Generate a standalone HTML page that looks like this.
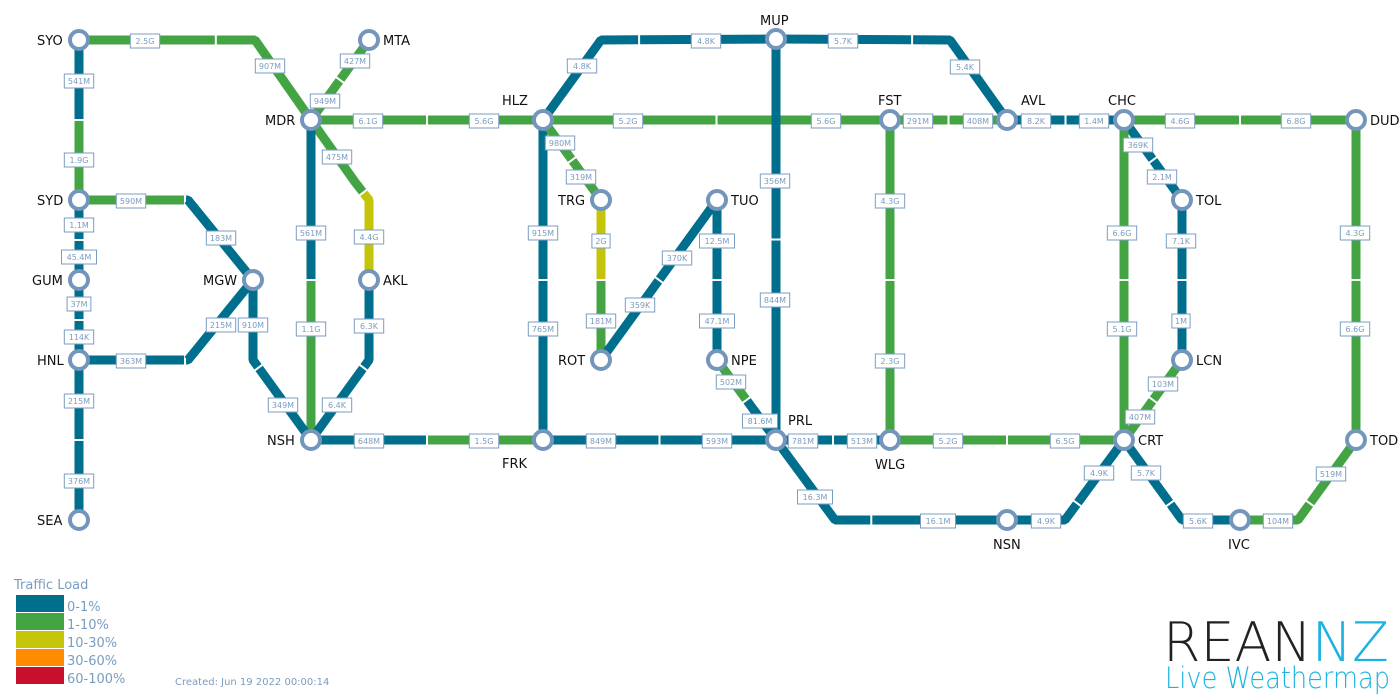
<!DOCTYPE html>
<html><head><meta charset="utf-8"><style>
html,body{margin:0;padding:0;background:#fff;width:1400px;height:700px;overflow:hidden}
svg{position:absolute;left:0;top:0}
text{font-family:"DejaVu Sans","Liberation Sans",sans-serif}
</style></head><body>
<svg id="s" width="1400" height="700" xmlns="http://www.w3.org/2000/svg">
<g id="links"></g><g id="labs"></g><g id="nodes"></g>
<text x="14" y="589" font-size="13" fill="#7a9cc0">Traffic Load</text>
<rect x="16" y="595" width="48" height="17" fill="#006f8e"/><text x="67" y="611" font-size="13" fill="#7a9cc0">0-1%</text>
<rect x="16" y="613" width="48" height="17" fill="#44a444"/><text x="67" y="629" font-size="13" fill="#7a9cc0">1-10%</text>
<rect x="16" y="631" width="48" height="17" fill="#c4c40a"/><text x="67" y="647" font-size="13" fill="#7a9cc0">10-30%</text>
<rect x="16" y="649" width="48" height="17" fill="#ff8c00"/><text x="67" y="665" font-size="13" fill="#7a9cc0">30-60%</text>
<rect x="16" y="667" width="48" height="17" fill="#c8102e"/><text x="67" y="683" font-size="13" fill="#7a9cc0">60-100%</text>
<text x="175" y="685" font-size="10" fill="#7a9cc0">Created: Jun 19 2022 00:00:14</text>
<text x="1163" y="661" font-size="54" fill="#222" style="font-family:'DejaVu Sans',sans-serif;font-weight:200" textLength="226" lengthAdjust="spacingAndGlyphs">REAN<tspan fill="#1ab3e0">NZ</tspan></text>
<text x="1165" y="688" font-size="29" fill="#1ab3e0" style="font-family:'DejaVu Sans',sans-serif;font-weight:200" textLength="225" lengthAdjust="spacingAndGlyphs">Live Weathermap</text>
</svg>
<script>
var B="#006f8e",G="#44a444",Y="#c4c40a";
var N={SYO:[79,40,-42,5],MTA:[369,40,14,5],MDR:[311,120,-46,5],HLZ:[543,120,-41,-15],MUP:[776,39,-16,-14],FST:[890,120,-12,-15],AVL:[1007,120,14,-15],CHC:[1124,120,-16,-15],DUD:[1356,120,14,5],SYD:[79,200,-42,5],TRG:[601,200,-43,5],TUO:[717,200,14,5],TOL:[1182,200,14,5],GUM:[79,280,-47,5],MGW:[253,280,-50,5],AKL:[369,280,14,5],HNL:[79,360,-42,5],ROT:[601,360,-43,5],NPE:[717,360,14,5],LCN:[1182,360,14,5],NSH:[311,440,-44,5],FRK:[543,440,-41,28],PRL:[776,440,12,-15],WLG:[890,440,-15,29],CRT:[1124,440,14,5],TOD:[1356,440,14,5],SEA:[79,520,-42,5],NSN:[1007,520,-14,29],IVC:[1240,520,-12,29]};
var L=[
[["SYO",[255,40],"MDR"],G,G,"2.5G",145,41,"907M",270,66],
[["MTA","MDR"],G,G,"427M",355,61,"949M",325,101],
[["SYO","SYD"],B,G,"541M",79,81,"1.9G",79,160],
[["MDR","HLZ"],G,G,"6.1G",368,121,"5.6G",484,121],
[["MDR",[355,182],[369,200],"AKL"],G,Y,"475M",337,157,"4.4G",369,237],
[["MDR","NSH"],B,G,"561M",311,233,"1.1G",311,329],
[["SYD",[188,200],"MGW"],G,B,"590M",131,201,"183M",221,238],
[["SYD","GUM"],B,B,"1.1M",79,225,"45.4M",79,257],
[["GUM","HNL"],B,B,"37M",79,304,"114K",79,337],
[["HNL",[188,360],"MGW"],B,B,"363M",131,361,"215M",221,325],
[["HNL","SEA"],B,B,"215M",79,401,"376M",79,481],
[["MGW",[253,360],"NSH"],B,B,"910M",253,325,"349M",283,405],
[["AKL",[369,360],"NSH"],B,B,"6.3K",369,326,"6.4K",337,405],
[["NSH","FRK"],B,G,"648M",369,441,"1.5G",484,441],
[["HLZ","FRK"],B,B,"915M",543,233,"765M",543,329],
[["HLZ",[601,40],"MUP"],B,B,"4.8K",582,66,"4.8K",706,41],
[["HLZ","TRG"],G,G,"980M",560,143,"319M",581,177],
[["HLZ","FST"],G,G,"5.2G",628,121,"5.6G",826,121],
[["TRG","ROT"],Y,G,"2G",601,241,"181M",601,321],
[["ROT","TUO"],B,B,"359K",640,305,"370K",677,258],
[["TUO","NPE"],B,B,"12.5M",717,241,"47.1M",717,321],
[["NPE","PRL"],G,B,"502M",731,382,"81.6M",760,421],
[["MUP","PRL"],B,B,"356M",775,181,"844M",775,300],
[["MUP",[950,40],"AVL"],B,B,"5.7K",843,41,"5.4K",965,67],
[["FRK","PRL"],B,B,"849M",601,441,"593M",717,441],
[["FST","AVL"],G,G,"291M",918,121,"408M",978,121],
[["FST","WLG"],G,G,"4.3G",890,201,"2.3G",890,361],
[["AVL","CHC"],B,B,"8.2K",1036,121,"1.4M",1094,121],
[["CHC","DUD"],G,G,"4.6G",1180,121,"6.8G",1296,121],
[["CHC","TOL"],B,B,"369K",1138,145,"2.1M",1162,177],
[["CHC","CRT"],G,G,"6.6G",1122,233,"5.1G",1122,329],
[["TOL","LCN"],B,B,"7.1K",1181,241,"1M",1181,321],
[["LCN","CRT"],G,G,"103M",1163,384,"407M",1140,417],
[["PRL","WLG"],B,B,"781M",803,441,"513M",862,441],
[["PRL",[835,520],"NSN"],B,B,"16.3M",815,497,"16.1M",938,521],
[["WLG","CRT"],G,G,"5.2G",948,441,"6.5G",1065,441],
[["CRT",[1065,520],"NSN"],B,B,"4.9K",1099,473,"4.9K",1046,521],
[["CRT",[1182,520],"IVC"],B,B,"5.7K",1146,473,"5.6K",1198,521],
[["IVC",[1298,520],"TOD"],G,G,"104M",1278,521,"519M",1331,474],
[["DUD","TOD"],G,G,"4.3G",1355,233,"6.6G",1355,329]];
var NS="http://www.w3.org/2000/svg";
function el(t,a,p,txt){var e=document.createElementNS(NS,t);for(var k in a)e.setAttribute(k,a[k]);if(txt)e.textContent=txt;document.getElementById(p).appendChild(e);return e;}
function pt(p){return typeof p=="string"?[N[p][0],N[p][1]]:p;}
function at(ps,d){for(var i=0;i<ps.length-1;i++){var a=ps[i],b=ps[i+1],l=Math.hypot(b[0]-a[0],b[1]-a[1]);if(d<=l){var t=d/l;return {p:[a[0]+(b[0]-a[0])*t,a[1]+(b[1]-a[1])*t],i:i};}d-=l;}return {p:ps[ps.length-1],i:ps.length-2};}
L.forEach(function(l){var ps=l[0].map(pt),tot=0;for(var i=0;i<ps.length-1;i++)tot+=Math.hypot(ps[i+1][0]-ps[i][0],ps[i+1][1]-ps[i][1]);
var m1=at(ps,tot/2-1),m2=at(ps,tot/2+1);
var h1=ps.slice(0,m1.i+1).concat([m1.p]),h2=[m2.p].concat(ps.slice(m2.i+1));
el("polyline",{points:h1.join(" "),fill:"none",stroke:l[1],"stroke-width":9,"stroke-linejoin":"bevel"},"links");
el("polyline",{points:h2.join(" "),fill:"none",stroke:l[2],"stroke-width":9,"stroke-linejoin":"bevel"},"links");
[[l[3],l[4],l[5]],[l[6],l[7],l[8]]].forEach(function(q){var w=q[0].length*5.6+7;
el("rect",{x:q[1]-w/2,y:q[2]-7,width:w,height:14,fill:"#fff",stroke:"#7a9cc0","stroke-width":1},"labs");
el("text",{x:q[1],y:q[2]+3,"font-size":8,fill:"#7a9cc0","text-anchor":"middle"},"labs",q[0]);});});
for(var k in N){var n=N[k];el("circle",{cx:n[0],cy:n[1],r:9,fill:"#fff",stroke:"#7496bb","stroke-width":4},"nodes");
el("text",{x:n[0]+n[2],y:n[1]+n[3],"font-size":13,fill:"#111"},"nodes",k);}
</script>
</body></html>
